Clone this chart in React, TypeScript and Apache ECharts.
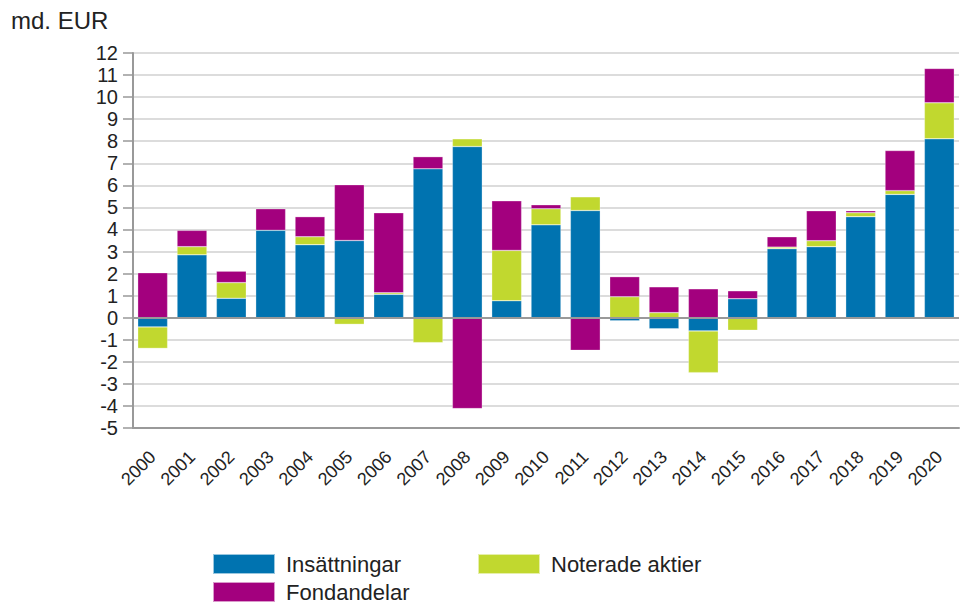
import React, { useEffect, useRef } from "react";
import * as echarts from "echarts";

const years = ["2000","2001","2002","2003","2004","2005","2006","2007","2008","2009","2010","2011","2012","2013","2014","2015","2016","2017","2018","2019","2020"];
const insattningar = [-0.42, 2.85, 0.88, 3.96, 3.31, 3.5, 1.06, 6.75, 7.76, 0.77, 4.21, 4.86, -0.14, -0.5, -0.6, 0.86, 3.13, 3.22, 4.58, 5.59, 8.11];
const noterade = [-0.97, 0.37, 0.71, -0.05, 0.36, -0.3, 0.07, -1.13, 0.35, 2.28, 0.73, 0.62, 0.95, 0.23, -1.89, -0.57, 0.07, 0.27, 0.18, 0.17, 1.63];
const fondandelar = [2.04, 0.74, 0.52, 0.98, 0.91, 2.53, 3.63, 0.55, -4.12, 2.25, 0.18, -1.48, 0.91, 1.17, 1.31, 0.36, 0.47, 1.36, 0.09, 1.82, 1.56];

const FONT = "'Liberation Sans', Arial, sans-serif";
const BLUE = "#0073B0";
const GREEN = "#C1D82F";
const MAGENTA = "#A3007E";

function legendItem(name: string, left: number, top: number) {
  return {
    data: [name],
    left,
    top,
    padding: 0,
    itemWidth: 62,
    itemHeight: 20,
    icon: "rect",
    textStyle: { fontSize: 22, color: "#222", fontFamily: FONT, padding: [0, 0, 0, 6] },
  };
}

export default function App() {
  const ref = useRef<HTMLDivElement>(null);
  useEffect(() => {
    if (!ref.current) return;
    const chart = echarts.init(ref.current, null, { renderer: "svg" });
    const barBase = {
      type: "bar",
      stack: "total",
      barCategoryGap: "24%",
      itemStyle: { borderColor: "rgba(255,255,255,0.6)", borderWidth: 0.5 },
    };
    chart.setOption({
      animation: false,
      textStyle: { fontFamily: FONT },
      graphic: [
        {
          type: "text",
          left: 11,
          top: 8,
          style: { text: "md. EUR", font: `24px ${FONT}`, fill: "#222" },
        },
      ],
      legend: [
        legendItem("Insättningar", 212, 553),
        legendItem("Fondandelar", 212, 581),
        legendItem("Noterade aktier", 477, 553),
      ],
      grid: { left: 133, right: 1, top: 53, bottom: 177 },
      xAxis: {
        type: "category",
        data: years,
        axisLine: { onZero: false, lineStyle: { color: "#999", width: 2 } },
        axisTick: { show: false },
        axisLabel: {
          rotate: 45,
          fontSize: 18,
          color: "#222",
          fontFamily: FONT,
          margin: 26,
        },
      },
      yAxis: {
        type: "value",
        min: -5,
        max: 12,
        interval: 1,
        axisLine: { show: true, lineStyle: { color: "#999", width: 2 } },
        axisTick: { show: true, length: 10, lineStyle: { color: "#999", width: 1.5 } },
        axisLabel: { fontSize: 20, lineHeight: 20, color: "#222", fontFamily: FONT, margin: 15 },
        splitLine: { lineStyle: { color: "#d0d0d0", width: 1.5 } },
      },
      series: [
        {
          ...barBase,
          name: "Insättningar",
          data: insattningar,
          itemStyle: { ...barBase.itemStyle, color: BLUE },
          markLine: {
            silent: true,
            symbol: "none",
            label: { show: false },
            lineStyle: { color: "#999", width: 2, type: "solid" },
            data: [{ yAxis: 0 }],
          },
        },
        {
          ...barBase,
          name: "Noterade aktier",
          data: noterade,
          itemStyle: { ...barBase.itemStyle, color: GREEN },
        },
        {
          ...barBase,
          name: "Fondandelar",
          data: fondandelar,
          itemStyle: { ...barBase.itemStyle, color: MAGENTA },
        },
      ],
    });
    return () => chart.dispose();
  }, []);
  return <div ref={ref} style={{ width: 960, height: 605, position: "absolute", left: 0, top: 0 }} />;
}
